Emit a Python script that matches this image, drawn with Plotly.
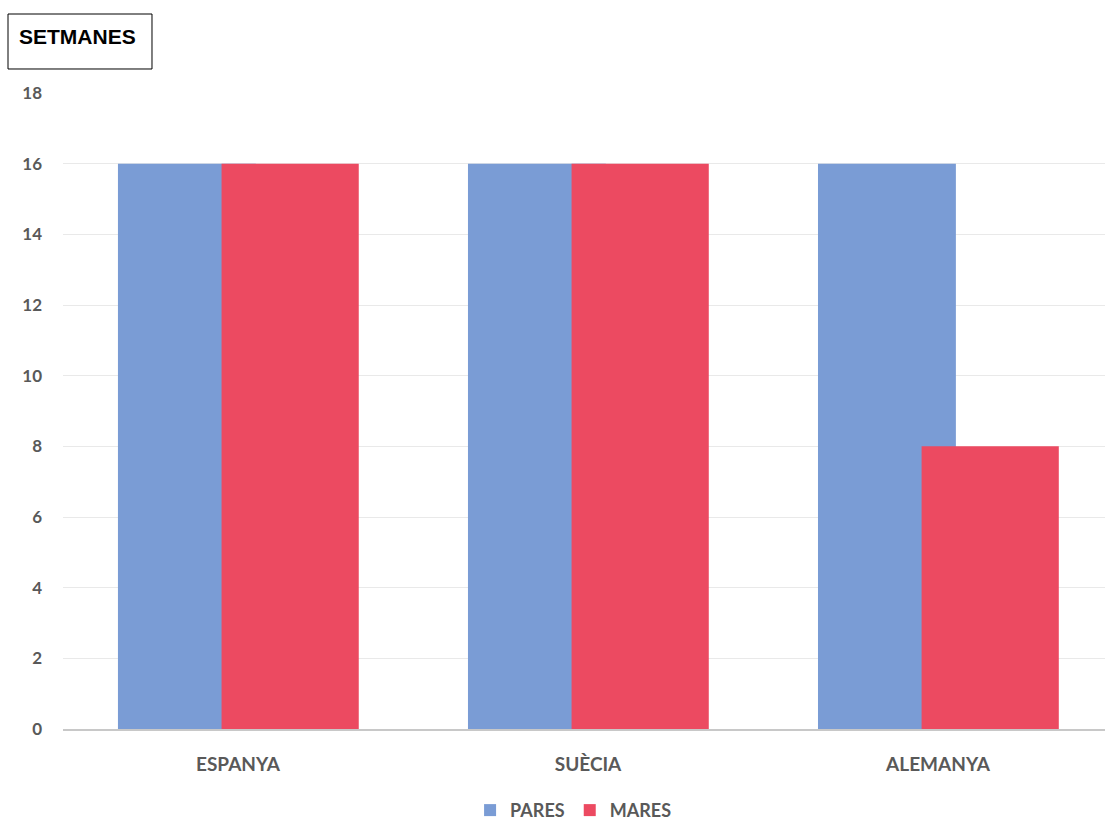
import plotly.graph_objects as go

categories = ["ESPANYA", "SUÈCIA", "ALEMANYA"]
pares = [16, 16, 16]
mares = [16, 16, 8]
y_ticks = [0, 2, 4, 6, 8, 10, 12, 14, 16, 18]

BLUE = "#7A9CD5"
RED = "#EC4A61"
GREY = "#595959"

fig = go.Figure()
fig.add_trace(go.Bar(name="PARES", x=categories, y=pares, marker_color=BLUE,
                     marker_line_width=0, width=0.394, offset=-0.343))
fig.add_trace(go.Bar(name="MARES", x=categories, y=mares, marker_color=RED,
                     marker_line_width=0, width=0.392, offset=-0.047))

fig.update_layout(
    width=1105, height=823,
    margin=dict(l=63, r=0, t=93, b=94, autoexpand=False),
    paper_bgcolor="white", plot_bgcolor="white",
    barmode="overlay",
    showlegend=True,
    legend=dict(orientation="h", x=0.49, xanchor="center", y=-0.128, yanchor="middle",
                font=dict(family="Lato", size=18, color=GREY, weight="bold"),
                traceorder="normal", itemwidth=30),
    xaxis=dict(range=[-0.5, 2.477], showgrid=False, zeroline=False,
               showline=True, linecolor="#C8C8C8", linewidth=2,
               tickfont=dict(family="Lato", size=19, color=GREY, weight="bold"),
               ticks="", ticklabelstandoff=17),
    yaxis=dict(range=[0, 18], tickvals=y_ticks, showgrid=True, gridcolor="#E9E9E9", gridwidth=1,
               zeroline=False, showline=False,
               tickfont=dict(family="Lato", size=17, color=GREY, weight="bold"),
               ticks="", ticklabelstandoff=20),
    font=dict(family="Lato"),
)

# title box
fig.add_shape(type="rect", xref="paper", yref="paper",
              x0=-0.05278, x1=0.08541, y0=1.03774, y1=1.12421,
              line=dict(color="black", width=1), fillcolor="rgba(0,0,0,0)")
fig.add_annotation(
    xref="paper", yref="paper", x=-0.04415, y=1.0895, xanchor="left", yanchor="middle",
    text="<b>SETMANES</b>", showarrow=False, align="left",
    font=dict(family="Liberation Sans", size=21, color="black"),
)

fig.write_html("out.html")
